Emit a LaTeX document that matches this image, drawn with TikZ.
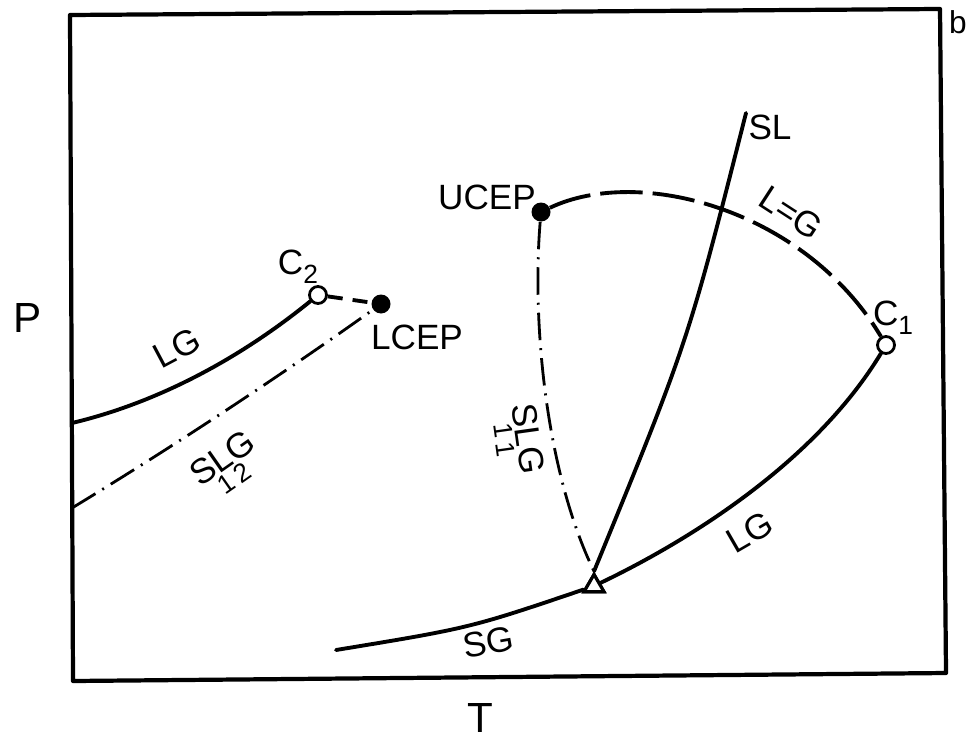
\documentclass[tikz,border=0pt]{standalone}
\usepackage{fontspec}
\setmainfont{Liberation Sans}
\usetikzlibrary{shapes.geometric}
\newcommand{\lsub}[1]{\raisebox{-0.5ex}{\fontsize{15}{15}\selectfont #1}}
\newcommand{\tsub}[1]{\makebox[0pt]{\raisebox{-1.1ex}{\fontsize{15}{15}\selectfont #1}}}
\begin{document}
\begin{tikzpicture}[x=0.02cm,y=-0.02cm,
  frameline/.style={line width=2.4pt, line join=round},
  solidline/.style={line width=2.2pt, line cap=round},
  lgdash/.style={line width=2.2pt, dash pattern=on 0.85cm off 0.2cm},
  shortdash/.style={line width=2.2pt, dash pattern=on 0.3cm off 0.2cm},
  dashdot/.style={line width=1.6pt, dash pattern=on 0.55cm off 0.16cm on 0.04cm off 0.16cm},
  lbl/.style={font=\fontsize{20}{24}\selectfont, inner sep=0pt},
  opendot/.style={circle, draw, line width=1.6pt, fill=white, minimum size=0.34cm, inner sep=0pt},
  filldot/.style={circle, fill=black, minimum size=0.38cm, inner sep=0pt},
  tripoint/.style={regular polygon, regular polygon sides=3, draw, line width=1.8pt, fill=white, minimum size=0.46cm, inner sep=0pt}]
\useasboundingbox (0,0) rectangle (972,740);
% frame
\draw[frameline] (70,15) -- (940,9) -- (946,673) -- (73,681) -- cycle;
% points
\node[opendot] (c2) at (318,295) {};
\node[filldot] (lcep) at (381,304) {};
\node[filldot] (ucep) at (541,212) {};
\node[opendot] (c1) at (886,345) {};
\node[tripoint] (tri) at (594,586) {};
\coordinate (lgstart) at (72,423);
\coordinate (slgstart) at (72,508);
\coordinate (sgstart) at (336,650);
\coordinate (sltop) at (746,113);
% curves
\draw[solidline] (lgstart) .. controls (156,403) and (238,360) .. (c2);
\draw[shortdash] (c2) -- (lcep);
\draw[dashdot] (slgstart) .. controls (174,446) and (277,378) .. (lcep);
\draw[lgdash] (ucep) .. controls (640,165) and (805,210) .. (c1);
\draw[dashdot] (ucep) .. controls (532,320) and (545,470) .. (tri.corner 1);
\draw[solidline] (tri.corner 1) .. controls (688,342) .. (sltop);
\draw[solidline] (sgstart) .. controls (470,628) .. (tri);
\draw[solidline] (tri) .. controls (690,540) and (815,462) .. (c1);
\node[tripoint] at (tri) {};
% labels
\node[lbl, font=\fontsize{24}{28}\selectfont] (plbl) at (28,318) {P};
\node[lbl, font=\fontsize{24}{28}\selectfont] (tlbl) at (480,718) {T};
\node[lbl, font=\fontsize{18}{22}\selectfont] (blbl) at (958,22) {b};
\node[lbl, rotate=28] (lgl) at (177,348) {LG};
\node[lbl] (c2l) at (298,267) {C\lsub{2}};
\node[lbl] (lcepl) at (417,337) {LCEP};
\node[lbl, rotate=35] (s12) at (228,466) {S\tsub{1}L\tsub{2}G};
\node[lbl] (ucepl) at (487,197) {UCEP};
\node[lbl] (sll) at (770,127) {SL};
\node[lbl, rotate=-33] (leqg) at (791,213) {L=G};
\node[lbl] (c1l) at (893,318) {C\lsub{1}};
\node[lbl, rotate=-82] (s11) at (518,440) {S\tsub{1}L\tsub{1}G};
\node[lbl, rotate=30] (lgr) at (750,532) {LG};
\node[lbl, rotate=10] (sgl) at (488,642) {SG};
\end{tikzpicture}
\end{document}
